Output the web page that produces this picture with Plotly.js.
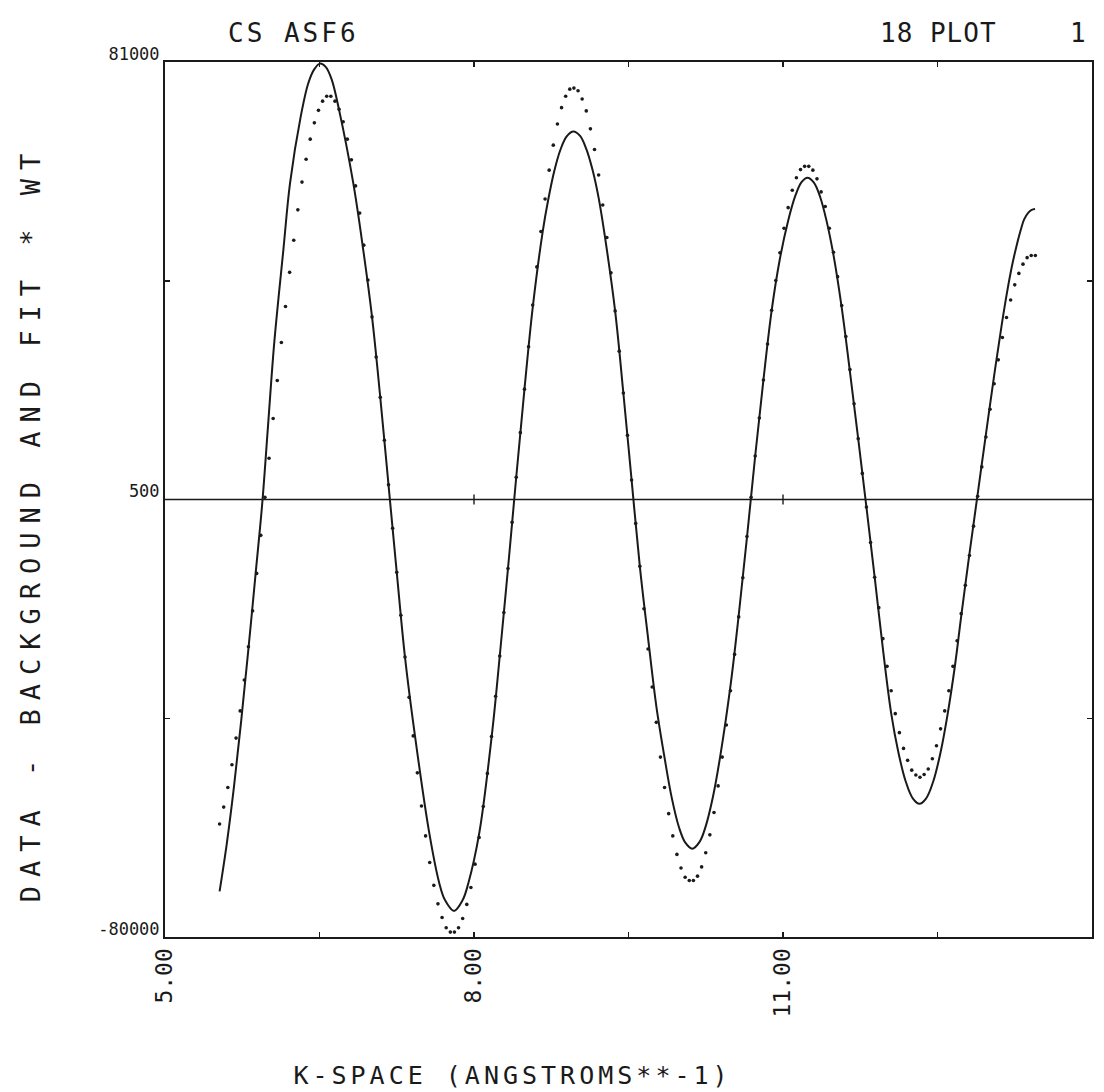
<!DOCTYPE html>
<html>
<head>
<meta charset="utf-8">
<script src="https://cdn.plot.ly/plotly-3.0.1.min.js"></script>
<style>
html,body{margin:0;padding:0;background:#fff;}
#chart{width:1104px;height:1092px;}
.gtitle{letter-spacing:3px;}
.xtitle{letter-spacing:4px;}
.ytitle{letter-spacing:9px;}
.annotation-text{letter-spacing:1px;}
</style>
</head>
<body>
<div id="chart"></div>
<script>
// Measured data points (dots): k in 1/Angstrom, value = data - background
const dotK = [
5.53,5.57,5.61,5.65,5.69,5.73,5.77,5.81,5.85,5.89,
5.93,5.97,6.01,6.05,6.09,6.13,6.17,6.21,6.25,6.29,
6.33,6.37,6.41,6.45,6.49,6.53,6.57,6.61,6.65,6.69,
6.73,6.77,6.81,6.85,6.89,6.93,6.97,7.01,7.05,7.09,
7.13,7.17,7.21,7.25,7.29,7.33,7.37,7.41,7.45,7.49,
7.53,7.57,7.61,7.65,7.69,7.73,7.77,7.81,7.85,7.89,
7.93,7.97,8.01,8.05,8.09,8.13,8.17,8.21,8.25,8.29,
8.33,8.37,8.41,8.45,8.49,8.53,8.57,8.61,8.65,8.69,
8.73,8.77,8.81,8.85,8.89,8.93,8.97,9.01,9.05,9.09,
9.13,9.17,9.21,9.25,9.29,9.33,9.37,9.41,9.45,9.49,
9.53,9.57,9.61,9.65,9.69,9.73,9.77,9.81,9.85,9.89,
9.93,9.97,10.01,10.05,10.09,10.13,10.17,10.21,10.25,10.29,
10.33,10.37,10.41,10.45,10.49,10.53,10.57,10.61,10.65,10.69,
10.73,10.77,10.81,10.85,10.89,10.93,10.97,11.01,11.05,11.09,
11.13,11.17,11.21,11.25,11.29,11.33,11.37,11.41,11.45,11.49,
11.53,11.57,11.61,11.65,11.69,11.73,11.77,11.81,11.85,11.89,
11.93,11.97,12.01,12.05,12.09,12.13,12.17,12.21,12.25,12.29,
12.33,12.37,12.41,12.45,12.49,12.53,12.57,12.61,12.65,12.69,
12.73,12.77,12.81,12.85,12.89,12.93,12.97,13.01,13.05,13.09,
13.13,13.17,13.21,13.25,13.29,13.33,13.37,13.41,13.45
];
const dotY = [
-59200,-56100,-52500,-48300,-43400,-38400,-32700,-26600,-20000,-13100,
-6100,900,8100,15400,22400,29400,36000,42300,48200,53800,
58900,63100,66800,69800,72100,73800,74700,74700,73800,72300,
70000,66800,63000,58200,53200,47300,40900,34100,26700,19300,
11400,3200,-4800,-12900,-20800,-28500,-35900,-43000,-49800,-55900,
-61400,-66300,-70500,-73900,-76400,-78300,-79100,-79100,-78300,-76600,
-74000,-70900,-66600,-61700,-56000,-49900,-43100,-35700,-28300,-20300,
-12200,-3700,4600,12800,20800,28600,36300,43300,49800,55800,
61100,65700,69600,72600,74700,76000,76200,75700,74200,72000,
68700,64900,60200,54700,48700,42200,35200,27800,20100,12300,
4100,-3900,-11800,-19600,-27000,-34000,-40500,-46900,-52500,-57300,
-61400,-64800,-67300,-69000,-69600,-69600,-68800,-67100,-64500,-61200,
-57100,-52200,-46900,-41000,-34700,-28000,-21100,-13900,-6300,900,
8500,15500,22500,29100,35300,40800,45900,50400,54200,57400,
59700,61200,61800,61800,61100,59500,57100,54400,50400,46000,
41500,36200,30500,24400,18100,11700,5300,-900,-7400,-13800,
-19400,-25100,-30200,-34700,-38900,-42400,-45300,-47500,-49300,-50200,
-50600,-50100,-49100,-47200,-44800,-41700,-38400,-34700,-30200,-25500,
-20500,-15300,-9800,-4400,1100,6500,12000,17100,21800,26200,
30300,34000,37200,40000,42100,43800,45000,45400,45400
];

// Fit (solid curve)
const fitK = [5.53,5.60,5.67,5.74,5.81,5.88,5.945,
6.00,6.061,6.149,6.214,6.317,6.391,6.45,6.505,6.56,6.618,6.692,6.828,6.925,7.01,7.09,7.17,
7.25,7.33,7.427,7.566,7.663,7.718,7.806,7.890,7.945,8.051,8.177,8.25,8.33,8.41,
8.49,8.57,8.667,8.72,8.78,8.84,8.90,8.964,9.03,9.09,9.15,9.21,9.27,9.37,9.45,9.53,
9.61,9.69,9.77,9.85,9.92,9.99,10.05,10.119,10.19,10.25,10.32,10.39,10.49,10.57,10.65,10.73,
10.81,10.89,10.97,11.05,11.12,11.18,11.238,11.30,11.36,11.42,11.49,11.57,11.65,11.73,11.81,11.89,
11.97,12.05,12.12,12.19,12.26,12.325,12.39,12.46,12.53,12.60,12.67,12.73,12.81,12.89,
12.97,13.05,13.123,13.172,13.220,13.269,13.308,13.340,13.382,13.415,13.447];
const fitY = [-71600,-62800,-52300,-40200,-27000,-13100,0,
14000,29400,46400,58700,70900,77100,79700,80700,80100,77800,72000,58700,46400,34100,19300,3200,
-12900,-28500,-43000,-60900,-70100,-73200,-75200,-73200,-70100,-60900,-42200,-28300,-12200,4600,
20800,35800,49800,55600,61000,64900,67300,68200,67400,65000,61200,56000,49000,35200,20100,4100,
-11800,-25000,-37500,-47000,-54400,-59800,-62600,-63750,-62500,-59600,-54200,-46800,-33800,-20800,-6500,8500,
22500,35300,44800,51800,56400,58900,59700,58800,56200,52000,45500,35800,24000,11700,-900,-13800,
-27000,-38800,-46000,-51300,-54500,-55500,-54500,-51300,-46000,-38800,-30000,-21000,-9500,1500,
12500,23300,32600,38300,43200,47300,50100,52000,53300,53800,53950];

// Axis settings
const xRange = [5, 14];
const yRange = [-80000, 81000];
const xTickVals = [5, 6.5, 8, 9.5, 11, 12.5, 14];
const xTickText = ['5.00', '', '8.00', '', '11.00', '', '14.00'];
const yTickVals = [-80000, -39750, 500, 40750, 81000];
const yTickText = ['-80000', '', '500', '', '81000'];
const refLevel = [500, 500];
const midTickK = [8, 11];
const midTickY = [500, 500];

const FONT = 'DejaVu Sans Mono, monospace';
const INK = '#1a1a1a';

const traces = [
  {x: xRange, y: refLevel, mode: 'lines', line: {color: INK, width: 1.6}, hoverinfo: 'skip', showlegend: false},
  {x: midTickK, y: midTickY, mode: 'markers', marker: {symbol: 'line-ns', size: 7, line: {color: INK, width: 1.4}}, showlegend: false},
  {x: fitK, y: fitY, mode: 'lines', line: {color: INK, width: 2, shape: 'spline', smoothing: 1}, showlegend: false},
  {x: dotK, y: dotY, mode: 'markers', marker: {color: INK, size: 3.6, symbol: 'circle'}, showlegend: false}
];

const layout = {
  width: 1104, height: 1092,
  margin: {l: 165, r: 12, t: 62, b: 155},
  paper_bgcolor: '#ffffff', plot_bgcolor: '#ffffff',
  font: {family: FONT, color: INK},
  showlegend: false,
  title: {text: 'CS ASF6', x: 228/1104, xanchor: 'left', xref: 'container', y: 1 - 33/1092, yanchor: 'middle', yref: 'container', font: {family: FONT, size: 26, color: INK}},
  xaxis: {
    range: xRange, tickmode: 'array', tickvals: xTickVals, ticktext: xTickText,
    ticks: 'inside', ticklen: 5, tickwidth: 1.5, tickcolor: INK,
    showline: true, linewidth: 2, linecolor: INK, mirror: 'ticks',
    showgrid: false, zeroline: false, tickangle: -90,
    tickfont: {family: FONT, size: 23, color: INK},
    title: {text: 'K-SPACE (ANGSTROMS**-1)', standoff: 40, font: {family: FONT, size: 25, color: INK}}
  },
  yaxis: {
    range: yRange, tickmode: 'array', tickvals: yTickVals, ticktext: yTickText,
    ticks: 'inside', ticklen: 5, tickwidth: 1.5, tickcolor: INK,
    showline: true, linewidth: 2, linecolor: INK, mirror: 'ticks',
    showgrid: false, zeroline: false, ticklabelshift: -8,
    tickfont: {family: FONT, size: 17, color: INK},
    title: {text: 'DATA - BACKGROUND AND FIT * WT', standoff: 50, font: {family: FONT, size: 27, color: INK}}
  },
  annotations: [
    {text: '18 PLOT', xref: 'paper', yref: 'paper', x: (878-165)/927, y: (937-33)/875, xanchor: 'left', yanchor: 'middle', showarrow: false, font: {family: FONT, size: 26, color: INK}},
    {text: '1', xref: 'paper', yref: 'paper', x: (1068-165)/927, y: (937-33)/875, xanchor: 'left', yanchor: 'middle', showarrow: false, font: {family: FONT, size: 26, color: INK}}
  ]
};

Plotly.newPlot('chart', traces, layout, {staticPlot: true, displayModeBar: false}).then(function () {
  // place axis titles where the original plotter put them
  const xt = document.querySelector('.xtitle');
  if (xt) xt.setAttribute('transform', 'translate(-116,10) ' + (xt.getAttribute('transform') || ''));
  const yt = document.querySelector('.ytitle');
  if (yt) yt.setAttribute('transform', 'translate(0,24) ' + (yt.getAttribute('transform') || ''));
});
</script>
</body>
</html>
